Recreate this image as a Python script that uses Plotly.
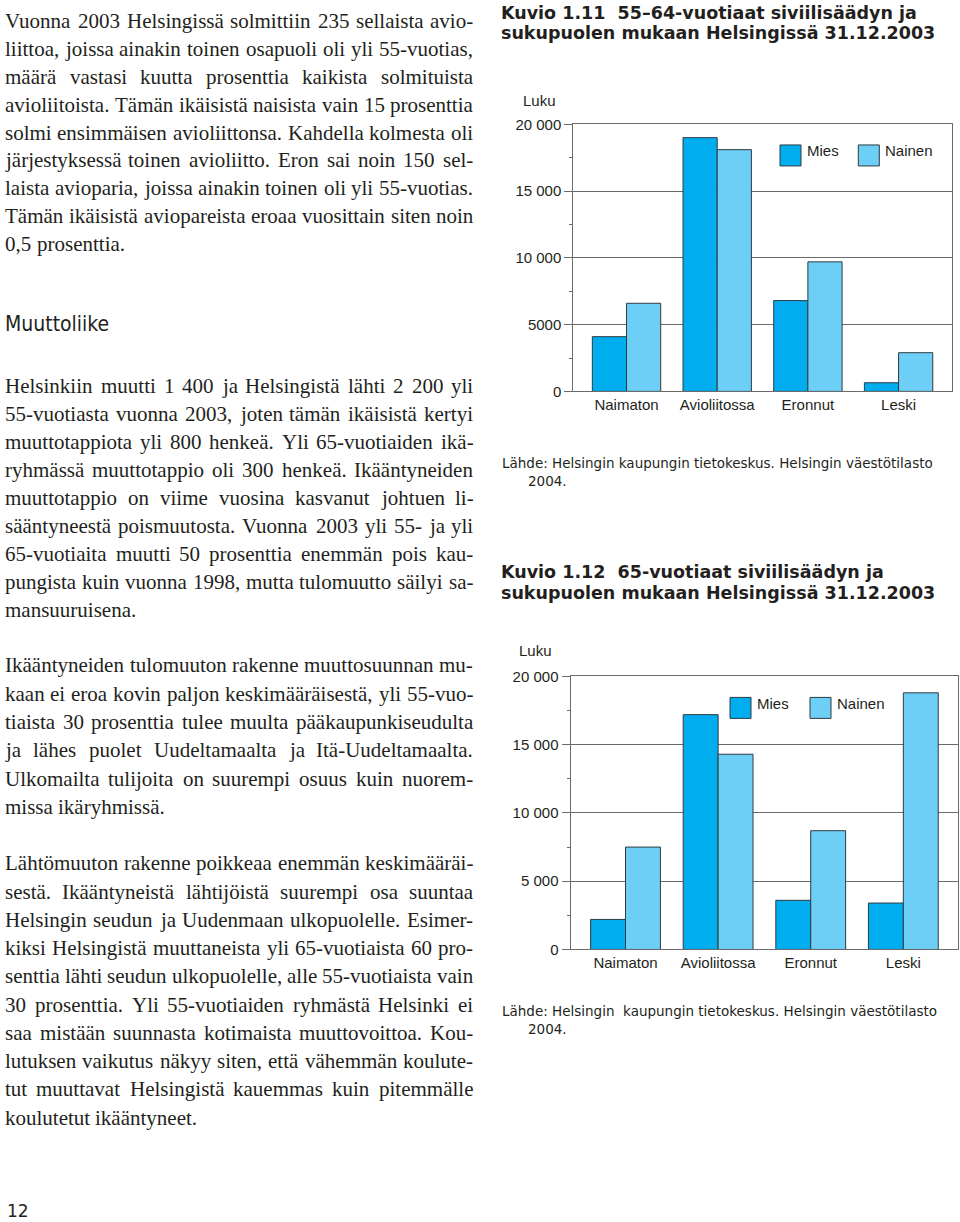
import plotly.graph_objects as go

# ---------------- data ----------------
categories = ["Naimaton", "Avioliitossa", "Eronnut", "Leski"]
mies_55_64 = [4100, 19000, 6800, 650]
nainen_55_64 = [6600, 18100, 9700, 2900]
mies_65 = [2200, 17200, 3600, 3400]
nainen_65 = [7500, 14300, 8700, 18800]
series_names = ["Mies", "Nainen"]
ytick_vals = [0, 5000, 10000, 15000, 20000]
ytick_text_1 = ["0", "5000", "10 000", "15 000", "20 000"]
ytick_text_2 = ["0", "5 000", "10 000", "15 000", "20 000"]

title_1 = ["Kuvio 1.11  55–64-vuotiaat siviilisäädyn ja",
           "sukupuolen mukaan Helsingissä 31.12.2003"]
title_2 = ["Kuvio 1.12  65-vuotiaat siviilisäädyn ja",
           "sukupuolen mukaan Helsingissä 31.12.2003"]
source_1 = ["Lähde: Helsingin kaupungin tietokeskus. Helsingin väestötilasto", "2004."]
source_2 = ["Lähde: Helsingin  kaupungin tietokeskus. Helsingin väestötilasto", "2004."]

para_1 = [
    "Vuonna 2003 Helsingissä solmittiin 235 sellaista avio-",
    "liittoa, joissa ainakin toinen osapuoli oli yli 55-vuotias,",
    "määrä vastasi kuutta prosenttia kaikista solmituista",
    "avioliitoista. Tämän ikäisistä naisista vain 15 prosenttia",
    "solmi ensimmäisen avioliittonsa. Kahdella kolmesta oli",
    "järjestyksessä toinen avioliitto. Eron sai noin 150 sel-",
    "laista avioparia, joissa ainakin toinen oli yli 55-vuotias.",
    "Tämän ikäisistä aviopareista eroaa vuosittain siten noin",
    "0,5 prosenttia.",
]
heading = "Muuttoliike"
para_2 = [
    "Helsinkiin muutti 1 400 ja Helsingistä lähti 2 200 yli",
    "55-vuotiasta vuonna 2003, joten tämän ikäisistä kertyi",
    "muuttotappiota yli 800 henkeä. Yli 65-vuotiaiden ikä-",
    "ryhmässä muuttotappio oli 300 henkeä. Ikääntyneiden",
    "muuttotappio on viime vuosina kasvanut johtuen li-",
    "sääntyneestä poismuutosta. Vuonna 2003 yli 55- ja yli",
    "65-vuotiaita muutti 50 prosenttia enemmän pois kau-",
    "pungista kuin vuonna 1998, mutta tulomuutto säilyi sa-",
    "mansuuruisena.",
]
para_3 = [
    "Ikääntyneiden tulomuuton rakenne muuttosuunnan mu-",
    "kaan ei eroa kovin paljon keskimääräisestä, yli 55-vuo-",
    "tiaista 30 prosenttia tulee muulta pääkaupunkiseudulta",
    "ja lähes puolet Uudeltamaalta ja Itä-Uudeltamaalta.",
    "Ulkomailta tulijoita on suurempi osuus kuin nuorem-",
    "missa ikäryhmissä.",
]
para_4 = [
    "Lähtömuuton rakenne poikkeaa enemmän keskimääräi-",
    "sestä. Ikääntyneistä lähtijöistä suurempi osa suuntaa",
    "Helsingin seudun ja Uudenmaan ulkopuolelle. Esimer-",
    "kiksi Helsingistä muuttaneista yli 65-vuotiaista 60 pro-",
    "senttia lähti seudun ulkopuolelle, alle 55-vuotiaista vain",
    "30 prosenttia. Yli 55-vuotiaiden ryhmästä Helsinki ei",
    "saa mistään suunnasta kotimaista muuttovoittoa. Kou-",
    "lutuksen vaikutus näkyy siten, että vähemmän koulute-",
    "tut muuttavat Helsingistä kauemmas kuin pitemmälle",
    "koulutetut ikääntyneet.",
]
page_number = "12"

# ---------------- style ----------------
W, H = 960, 1222
# vertical mapping of the photographed page (measured from calibration runs)
SY, OY = 1222 / 1238, 8.0
MIES = "#00adef"
NAINEN = "#6dcff6"
EDGE = "#2f3a40"
LINE = "#6a6a6a"
TXT = "#231f20"
SERIF = "Liberation Serif, Times New Roman, serif"
SANS = "Liberation Sans, Arial, sans-serif"
VERD = "DejaVu Sans, Verdana, sans-serif"
BODY_SIZE = 21

# Times-compatible advance widths (1/1000 em) for justification layout
_TW = {" ": 250, ",": 250, ".": 250, "-": 333, "–": 500, ":": 278, ";": 278,
       "(": 333, ")": 333, "'": 333}
for c in "0123456789":
    _TW[c] = 500
for c, w in zip("ABCDEFGHIJKLMNOPQRSTUVWXYZ",
                [722, 667, 667, 722, 611, 556, 722, 722, 333, 389, 722, 611, 889,
                 722, 722, 556, 722, 667, 556, 611, 722, 722, 944, 722, 722, 611]):
    _TW[c] = w
for c, w in zip("abcdefghijklmnopqrstuvwxyz",
                [444, 500, 444, 500, 444, 333, 500, 500, 278, 278, 500, 278, 778,
                 500, 500, 500, 500, 333, 389, 278, 500, 500, 722, 500, 500, 444]):
    _TW[c] = w
_TW.update({"ä": 444, "ö": 500, "å": 444, "Ä": 722, "Ö": 722, "Å": 722})


def text_w(s, size):
    return sum(_TW.get(c, 500) for c in s) * size / 1000.0


def px(x):
    return x / W


def py(y):
    return 1 - (y / SY - OY) / H


annotations = []
shapes = []


def add_text(x, y, text, size, family, color=TXT, xanchor="left", bold=False):
    annotations.append(dict(
        x=px(x), y=py(y), xref="paper", yref="paper", text=("<b>%s</b>" % text) if bold else text,
        showarrow=False, xanchor=xanchor, yanchor="middle", borderpad=0, borderwidth=0,
        font=dict(size=size, family=family, color=color)))


def add_paragraph(lines, y0, step, left=5.0, right=473.3):
    col = right - left
    for i, line in enumerate(lines):
        words = line.split(" ")
        y = y0 + i * step
        widths = [text_w(w, BODY_SIZE) for w in words]
        last = (i == len(lines) - 1)
        if last or len(words) == 1:
            gap = 0.25 * BODY_SIZE
        else:
            gap = (col - sum(widths)) / (len(words) - 1)
        x = left
        for w, ww in zip(words, widths):
            add_text(x, y, w, BODY_SIZE, SERIF)
            x += ww + gap


add_paragraph(para_1, 20.0, 27.9)
add_text(5, 323, heading, 21, "Liberation Sans Narrow, DejaVu Sans Condensed, Liberation Sans")
add_paragraph(para_2, 385.0, 28.1)
add_paragraph(para_3, 665.0, 28.3)
add_paragraph(para_4, 863.0, 28.3)
add_text(6.5, 1211, page_number, 17, VERD)

# chart titles
add_text(501, 11.5, title_1[0], 17.5, VERD, bold=True)
add_text(501, 32, title_1[1], 17.5, VERD, bold=True)
add_text(501, 571, title_2[0], 17.5, VERD, bold=True)
add_text(501, 592, title_2[1], 17.5, VERD, bold=True)

# unit labels
add_text(523, 99, "Luku", 15, SANS)
add_text(519, 650, "Luku", 15, SANS)

# sources
add_text(502, 462, source_1[0], 13.5, VERD)
add_text(528, 480, source_1[1], 13.5, VERD)
add_text(502, 1011, source_2[0], 13.5, VERD)
add_text(528, 1029, source_2[1], 13.5, VERD)


# manual legends
def add_legend(x_boxes, y_top, size=21):
    for xb, name, col in zip(x_boxes, series_names, [MIES, NAINEN]):
        shapes.append(dict(type="rect", xref="paper", yref="paper",
                           x0=px(xb), x1=px(xb + size), y0=py(y_top + size), y1=py(y_top),
                           fillcolor=col, line=dict(color=EDGE, width=1)))
        add_text(xb + size + 6, y_top + 6, name, 15, SANS)


add_legend([780, 858.3], 144)
add_legend([730, 810], 697)

fig = go.Figure()
bar_line = dict(color=EDGE, width=1)
fig.add_trace(go.Bar(x=categories, y=mies_55_64, name=series_names[0],
                     marker=dict(color=MIES, line=bar_line), xaxis="x", yaxis="y"))
fig.add_trace(go.Bar(x=categories, y=nainen_55_64, name=series_names[1],
                     marker=dict(color=NAINEN, line=bar_line), xaxis="x", yaxis="y"))
fig.add_trace(go.Bar(x=categories, y=mies_65, name=series_names[0],
                     marker=dict(color=MIES, line=bar_line), xaxis="x2", yaxis="y2"))
fig.add_trace(go.Bar(x=categories, y=nainen_65, name=series_names[1],
                     marker=dict(color=NAINEN, line=bar_line), xaxis="x2", yaxis="y2"))


def xax(domain, rng, anchor):
    return dict(domain=domain, range=rng, anchor=anchor, type="category",
                showline=True, linecolor=LINE, linewidth=1, mirror=True,
                ticks="", showgrid=False, zeroline=False,
                tickfont=dict(size=15, family=SANS, color=TXT), fixedrange=True)


def yax(domain, ticktext, anchor):
    return dict(domain=domain, range=[0, 20000], anchor=anchor,
                tickmode="array", tickvals=ytick_vals, ticktext=ticktext,
                showline=True, linecolor=LINE, linewidth=1, mirror=True,
                showgrid=True, gridcolor=LINE, gridwidth=1, zeroline=False,
                ticks="outside", ticklen=8, tickwidth=1, tickcolor=LINE,
                minor=dict(tick0=0, dtick=2500, ticks="outside", ticklen=3,
                           tickcolor=LINE, showgrid=False),
                tickfont=dict(size=15, family=SANS, color=TXT), fixedrange=True)


fig.update_layout(
    width=W, height=H, margin=dict(l=0, r=0, t=0, b=0),
    paper_bgcolor="white", plot_bgcolor="white",
    barmode="group", bargap=0.246, bargroupgap=0, showlegend=False,
    xaxis=xax([px(573.3), px(951.7)], [-0.587, 3.586], "y"),
    yaxis=yax([py(390.7), py(123.3)], ytick_text_1, "x"),
    xaxis2=xax([px(570.5), px(957.7)], [-0.594, 3.587], "y2"),
    yaxis2=yax([py(949.3), py(676.0)], ytick_text_2, "x2"),
    annotations=annotations, shapes=shapes,
)

page_fix = ("document.documentElement.style.margin='0';"
            "document.body.style.margin='0';document.body.style.padding='0';"
            "document.body.style.overflow='hidden';"
            "var gd=document.getElementById('{plot_id}');"
            "gd.style.position='absolute';gd.style.left='0px';gd.style.top='0px';")

fig.write_html("out.html", post_script=page_fix, config={"displayModeBar": False})
